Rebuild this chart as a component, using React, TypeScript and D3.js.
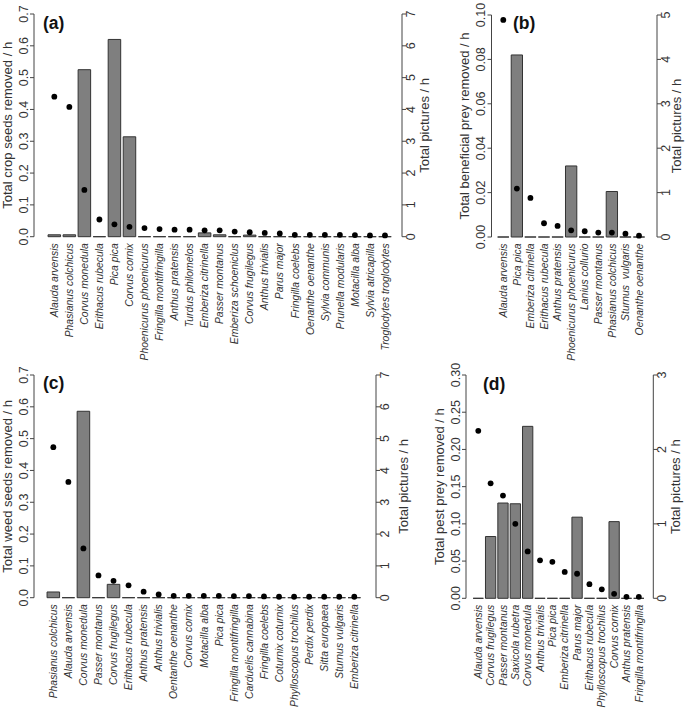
import * as d3 from 'd3';

// (a) crop seeds
const cropSpecies = [
  'Alauda arvensis', 'Phasianus colchicus', 'Corvus monedula', 'Erithacus rubecula', 'Pica pica',
  'Corvus cornix', 'Phoenicurus phoenicurus', 'Fringilla montifringilla', 'Anthus pratensis',
  'Turdus philomelos', 'Emberiza citrinella', 'Passer montanus', 'Emberiza schoeniclus',
  'Corvus frugilegus', 'Anthus trivialis', 'Parus major', 'Fringilla coelebs', 'Oenanthe oenanthe',
  'Sylvia communis', 'Prunella modularis', 'Motacilla alba', 'Sylvia atricapilla', 'Troglodytes troglodytes',
];
const cropRemoved = [0.006, 0.006, 0.525, 0, 0.62, 0.314, 0, 0, 0, 0, 0.012, 0.006, 0, 0.005, 0, 0, 0, 0, 0, 0, 0, 0, 0];
const cropPictures = [4.4, 4.08, 1.47, 0.54, 0.39, 0.31, 0.27, 0.24, 0.22, 0.22, 0.2, 0.2, 0.16, 0.14, 0.12, 0.1, 0.06, 0.06, 0.06, 0.06, 0.05, 0.04, 0.04];
const cropLeftTicks = [0, 0.1, 0.2, 0.3, 0.4, 0.5, 0.6, 0.7];
const cropRightTicks = [0, 1, 2, 3, 4, 5, 6, 7];

// (b) beneficial prey
const benSpecies = [
  'Alauda arvensis', 'Pica pica', 'Emberiza citrinella', 'Erithacus rubecula', 'Anthus pratensis',
  'Phoenicurus phoenicurus', 'Lanius collurio', 'Passer montanus', 'Phasianus colchicus',
  'Sturnus  vulgaris', 'Oenanthe oenanthe',
];
const benRemoved = [0, 0.082, 0, 0, 0, 0.032, 0, 0, 0.0205, 0, 0];
const benPictures = [4.89, 1.09, 0.88, 0.31, 0.25, 0.15, 0.13, 0.1, 0.1, 0.075, 0.03];
const benLeftTicks = [0, 0.02, 0.04, 0.06, 0.08, 0.1];
const benRightTicks = [0, 1, 2, 3, 4, 5];

// (c) weed seeds
const weedSpecies = [
  'Phasianus colchicus', 'Alauda arvensis', 'Corvus monedula', 'Passer montanus', 'Corvus frugilegus',
  'Erithacus rubecula', 'Anthus pratensis', 'Anthus trivialis', 'Oentanthe oenanthe', 'Corvus cornix',
  'Motacilla alba', 'Pica pica', 'Fringilla montifringilla', 'Carduelis cannabina', 'Fringilla coelebs',
  'Coturnix coturnix', 'Phylloscopus trochilus', 'Perdix perdix', 'Sitta europaea', 'Sturnus vulgaris',
  'Emberiza citrinella',
];
const weedRemoved = [0.018, 0, 0.586, 0, 0.042, 0, 0, 0, 0, 0, 0, 0, 0, 0, 0, 0, 0, 0, 0, 0, 0];
const weedPictures = [4.73, 3.64, 1.55, 0.7, 0.53, 0.39, 0.19, 0.1, 0.06, 0.06, 0.06, 0.06, 0.05, 0.05, 0.04, 0.03, 0.03, 0.03, 0.03, 0.03, 0.03];
const weedLeftTicks = [0, 0.1, 0.2, 0.3, 0.4, 0.5, 0.6, 0.7];
const weedRightTicks = [0, 1, 2, 3, 4, 5, 6, 7];

// (d) pest prey
const pestSpecies = [
  'Alauda arvensis', 'Corvus frugilegus', 'Passer montanus', 'Saxicola rubetra', 'Corvus monedula',
  'Anthus trivialis', 'Pica pica', 'Emberiza citrinella', 'Parus major', 'Erithacus rubecula',
  'Phylloscopus trochilus', 'Corvus cornix', 'Anthus pratensis', 'Fringilla montifringilla',
];
const pestRemoved = [0, 0.083, 0.128, 0.127, 0.231, 0, 0, 0, 0.109, 0, 0, 0.103, 0, 0];
const pestPictures = [2.25, 1.545, 1.38, 1.0, 0.63, 0.51, 0.49, 0.355, 0.33, 0.19, 0.12, 0.06, 0.02, 0.02];
const pestLeftTicks = [0, 0.05, 0.1, 0.15, 0.2, 0.25, 0.3];
const pestRightTicks = [0, 1, 2, 3];

const FONT = '"Liberation Sans", Arial, sans-serif';
const INK = '#333';

type Box = {
  left: number; right: number; top: number; bottom: number; x0: number; x1: number;
  tagX: number; tagY: number; rTitle: number;
};

function Panel(props: {
  tag: string; box: Box; species: string[]; removed: number[]; pictures: number[];
  leftTicks: number[]; rightTicks: number[]; digits: number; leftTitle: string;
}) {
  const { tag, box, species, removed, pictures, leftTicks, rightTicks, digits, leftTitle } = props;
  const y = d3.scaleLinear().domain([leftTicks[0], leftTicks[leftTicks.length - 1]]).range([box.bottom, box.top]);
  const y2 = d3.scaleLinear().domain([rightTicks[0], rightTicks[rightTicks.length - 1]]).range([box.bottom, box.top]);
  const x = d3.scaleBand().domain(species).range([box.x0, box.x1]).paddingInner(1 / 6).paddingOuter(1 / 12);
  const bw = x.bandwidth();
  const mid = (box.top + box.bottom) / 2;

  return (
    <g>
      {/* bars (zero values still draw their outline as a flat line) */}
      {species.map((s, i) => {
        const bx = x(s)!;
        return (
          <path key={'b' + i}
            d={`M${bx},${y(0)}V${y(removed[i])}H${bx + bw}V${y(0)}Z`}
            fill="#7f7f7f" stroke="#333" strokeWidth={1} />
        );
      })}
      {/* dots on right axis */}
      {species.map((s, i) => (
        <circle key={'d' + i} cx={x(s)! + bw / 2} cy={y2(pictures[i])} r={2.9} fill="#000" />
      ))}
      {/* species labels */}
      {species.map((s, i) => (
        <text key={'l' + i} transform={`translate(${x(s)! + bw / 2 + 3.7},${box.bottom + 6.5}) rotate(-90)`}
          textAnchor="end" fontSize={10.4} fontStyle="italic" fill={INK}
          style={{ whiteSpace: 'pre' }}>{s}</text>
      ))}
      {/* left axis */}
      <line x1={box.left} x2={box.left} y1={y(leftTicks[0])} y2={y(leftTicks[leftTicks.length - 1])} stroke="#444" />
      {leftTicks.map((t, i) => (
        <g key={'lt' + i}>
          <line x1={box.left - 4} x2={box.left} y1={y(t)} y2={y(t)} stroke="#444" />
          <text transform={`translate(${box.left - 6.5},${y(t)}) rotate(-90)`} textAnchor="middle"
            fontSize={12.5} fill={INK}>{t.toFixed(digits)}</text>
        </g>
      ))}
      <text transform={`translate(${box.left - 22.5},${mid}) rotate(-90)`} textAnchor="middle"
        fontSize={13} fill={INK}>{leftTitle}</text>
      {/* right axis */}
      <line x1={box.right} x2={box.right} y1={y2(rightTicks[0])} y2={y2(rightTicks[rightTicks.length - 1])} stroke="#444" />
      {rightTicks.map((t, i) => (
        <g key={'rt' + i}>
          <line x1={box.right} x2={box.right + 4} y1={y2(t)} y2={y2(t)} stroke="#444" />
          <text transform={`translate(${box.right + 13},${y2(t)}) rotate(-90)`} textAnchor="middle"
            fontSize={12.5} fill={INK}>{t}</text>
        </g>
      ))}
      <text transform={`translate(${box.right + box.rTitle},${mid}) rotate(-90)`} textAnchor="middle"
        fontSize={13} fill={INK}>Total pictures / h</text>
      <text x={box.tagX} y={box.tagY} fontSize={17.5} fontWeight="bold" fill="#111">{tag}</text>
    </g>
  );
}

export default function App() {
  return (
    <svg width={685} height={708} style={{ position: 'absolute', left: 0, top: 0, background: '#fff' }}
      fontFamily={FONT}>
      <Panel tag="(a)" species={cropSpecies} removed={cropRemoved} pictures={cropPictures}
        leftTicks={cropLeftTicks} rightTicks={cropRightTicks} digits={1}
        leftTitle="Total crop seeds removed / h"
        box={{ left: 34, right: 402, top: 14, bottom: 236.7, x0: 46.8, x1: 392.5, tagX: 43, tagY: 29, rTitle: 27 }} />
      <Panel tag="(b)" species={benSpecies} removed={benRemoved} pictures={benPictures}
        leftTicks={benLeftTicks} rightTicks={benRightTicks} digits={2}
        leftTitle="Total beneficial prey removed / h"
        box={{ left: 491.5, right: 657, top: 15, bottom: 237, x0: 496.5, x1: 645.8, tagX: 513, tagY: 29, rTitle: 23.5 }} />
      <Panel tag="(c)" species={weedSpecies} removed={weedRemoved} pictures={weedPictures}
        leftTicks={weedLeftTicks} rightTicks={weedRightTicks} digits={1}
        leftTitle="Total weed seeds removed / h"
        box={{ left: 34, right: 376, top: 375, bottom: 597.7, x0: 45.8, x1: 361.8, tagX: 43, tagY: 389, rTitle: 32 }} />
      <Panel tag="(d)" species={pestSpecies} removed={pestRemoved} pictures={pestPictures}
        leftTicks={pestLeftTicks} rightTicks={pestRightTicks} digits={2}
        leftTitle="Total pest prey removed / h"
        box={{ left: 466, right: 653.3, top: 375, bottom: 598.3, x0: 472.1, x1: 645, tagX: 483, tagY: 390, rTitle: 26.5 }} />
    </svg>
  );
}
